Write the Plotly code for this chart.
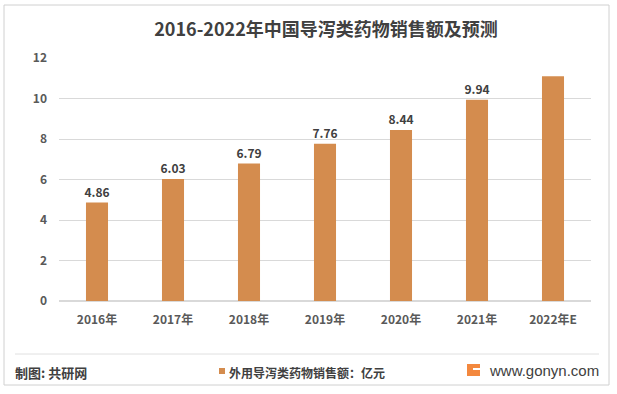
import plotly.graph_objects as go

categories = ["2016年", "2017年", "2018年", "2019年", "2020年", "2021年", "2022年E"]
values = [4.86, 6.03, 6.79, 7.76, 8.44, 9.94, 11.1]
labels = ["4.86", "6.03", "6.79", "7.76", "8.44", "9.94", ""]
y_ticks = [0, 2, 4, 6, 8, 10, 12]
series_name = "外用导泻类药物销售额：亿元"

W, H = 617, 394
L, R, T, B = 59, 591, 58, 301

def px(x):
    return (x - L) / (R - L)

def py(y):
    return (B - y) / (B - T)

FONT = "Noto Sans CJK SC"
BAR = "#D48C4E"

fig = go.Figure()
fig.add_trace(go.Bar(
    x=categories, y=values, text=labels, textposition="outside",
    texttemplate="<b>%{text}</b>", constraintext="none",
    textfont=dict(family=FONT, size=12, color="#404040"),
    marker=dict(color=BAR, line=dict(width=0)),
    name=series_name, cliponaxis=False, showlegend=False,
))

fig.update_layout(
    width=W, height=H,
    margin=dict(l=L, r=W - R, t=T, b=H - B),
    paper_bgcolor="white", plot_bgcolor="white",
    bargap=0.71,
    font=dict(family=FONT, color="#595959"),
    title=dict(text="<b>2016-2022年中国导泻类药物销售额及预测</b>", x=326 / W, xanchor="center",
               xref="container", y=1 - 30 / H, yanchor="middle",
               font=dict(family=FONT, size=18, color="#404040")),
    xaxis=dict(showgrid=False, showline=False, ticks="",
               tickvals=categories, ticktext=["<b>%s</b>" % c for c in categories],
               ticklabelstandoff=10,
               tickfont=dict(size=12, color="#595959", family=FONT)),
    yaxis=dict(range=[0, 12], tickvals=y_ticks, ticktext=["<b>%d</b>" % v for v in y_ticks],
               showgrid=True, gridcolor="#D9D9D9", gridwidth=1,
               zeroline=True, zerolinecolor="#D9D9D9", ticks="", ticklen=0,
               ticklabelstandoff=11,
               tickfont=dict(size=12, color="#595959", family=FONT)),
    showlegend=False,
)

shapes = [
    dict(type="rect", xref="paper", yref="paper", x0=px(4), x1=px(609), y0=py(385), y1=py(5),
         line=dict(color="#D0D0D0", width=1), fillcolor="rgba(0,0,0,0)", layer="below"),
    dict(type="line", xref="paper", yref="paper", x0=px(15), x1=px(599), y0=py(354), y1=py(354),
         line=dict(color="#E0E0E0", width=1)),
    # legend swatch
    dict(type="rect", xref="paper", yref="paper", x0=px(219), x1=px(225), y0=py(374), y1=py(368),
         line=dict(width=0), fillcolor=BAR),
    # logo
    dict(type="rect", xref="paper", yref="paper", x0=px(467), x1=px(480), y0=py(376), y1=py(364),
         line=dict(width=0), fillcolor="#F3883E"),
    dict(type="rect", xref="paper", yref="paper", x0=px(473), x1=px(480), y0=py(370), y1=py(368),
         line=dict(width=0), fillcolor="white"),
]
fig.update_layout(shapes=shapes)

fig.add_annotation(text="<b>" + series_name + "</b>", xref="paper", yref="paper", x=px(227), y=py(372),
                   xanchor="left", yanchor="middle", showarrow=False,
                   font=dict(size=12, color="#404040", family=FONT))
fig.add_annotation(text="<b>制图: 共研网</b>", xref="paper", yref="paper", x=px(13), y=py(372),
                   xanchor="left", yanchor="middle", showarrow=False,
                   font=dict(size=13, color="#404040", family=FONT))
fig.add_annotation(text="www.gonyn.com", xref="paper", yref="paper", x=px(487), y=py(370),
                   xanchor="left", yanchor="middle", showarrow=False,
                   font=dict(size=15, color="#404040", family="Liberation Sans"))

fig.write_html("out.html", config={"displayModeBar": False},
               post_script="document.body.style.margin='0';")
